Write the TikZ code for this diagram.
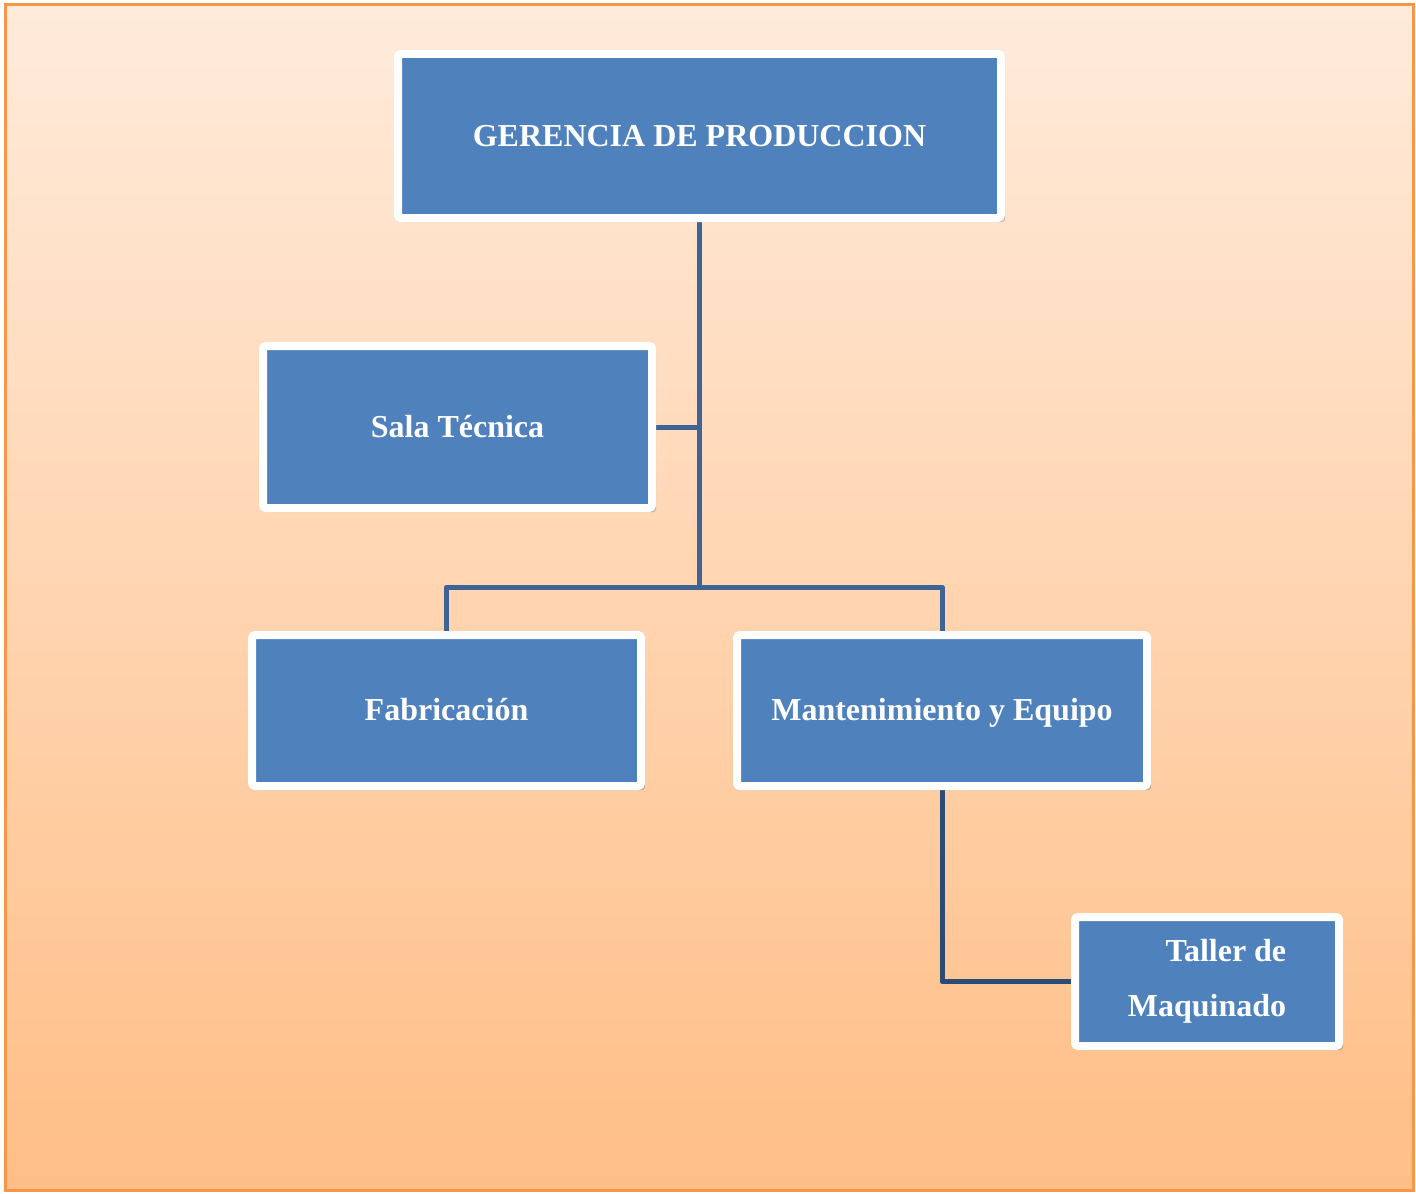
\documentclass[tikz,border=0pt]{standalone}
\usepackage{fontspec}
\setmainfont{Liberation Serif}
\usetikzlibrary{shadows}
\definecolor{boxblue}{HTML}{4F81BD}
\definecolor{linkblue}{HTML}{3D6494}
\definecolor{linkdark}{HTML}{2A4B74}
\definecolor{frameorange}{HTML}{F79646}
\definecolor{bgtop}{HTML}{FFEBDB}
\definecolor{bgbottom}{HTML}{FFBE86}
\pgfdeclarelayer{bg}
\pgfdeclarelayer{links}
\pgfsetlayers{bg,links,main}
\tikzset{
  unit/.style={rectangle, fill=boxblue, draw=white, line width=4pt,
    rounded corners=1.5pt, text=white, font=\fontsize{16}{27.5}\selectfont\bfseries,
    drop shadow={shadow xshift=2pt, shadow yshift=-2pt, opacity=0.3, fill=black!70}},
  oneline/.style={text height=12pt, text depth=2pt},
  link/.style={draw=linkblue, line width=2.5pt, line join=round}
}
\begin{document}
\begin{tikzpicture}[x=0.5pt, y=-0.5pt]
        \useasboundingbox (0,0) rectangle (1416,1193);
        \begin{pgfonlayer}{bg}
        \shade[top color=bgtop, bottom color=bgbottom] (5,5) rectangle (1413,1190);
        \draw[frameorange, line width=1.5pt] (5,5) rectangle (1413,1190);
        \end{pgfonlayer}

        \node[unit, oneline, minimum width=301.5pt, minimum height=82pt] (gerencia) at (699.5,136) {GERENCIA DE PRODUCCION};
        \node[unit, oneline, minimum width=194.5pt, minimum height=81pt] (sala) at (457.5,427) {Sala Técnica};
        \node[unit, oneline, minimum width=194.5pt, minimum height=75.5pt] (fabricacion) at (446.5,710.5) {Fabricación};
        \node[unit, oneline, minimum width=205pt, minimum height=75.5pt] (mantenimiento) at (942,710.5) {Mantenimiento y Equipo};
        \node[unit, minimum width=132pt, minimum height=64.5pt, align=right] (taller) at (1207,981.5) {Taller de\\Maquinado};

        \coordinate (split) at (699.5,587);

        \begin{pgfonlayer}{links}
        \draw[link] (gerencia.south) -- (split);
        \draw[link] (split) -| (fabricacion.north);
        \draw[link] (split) -| (mantenimiento.north);
        \draw[link] (sala.east) -- (sala.east -| gerencia.south);
        \draw[link, draw=linkdark] (mantenimiento.south) |- (taller.west);
        \end{pgfonlayer}
\end{tikzpicture}
\end{document}
